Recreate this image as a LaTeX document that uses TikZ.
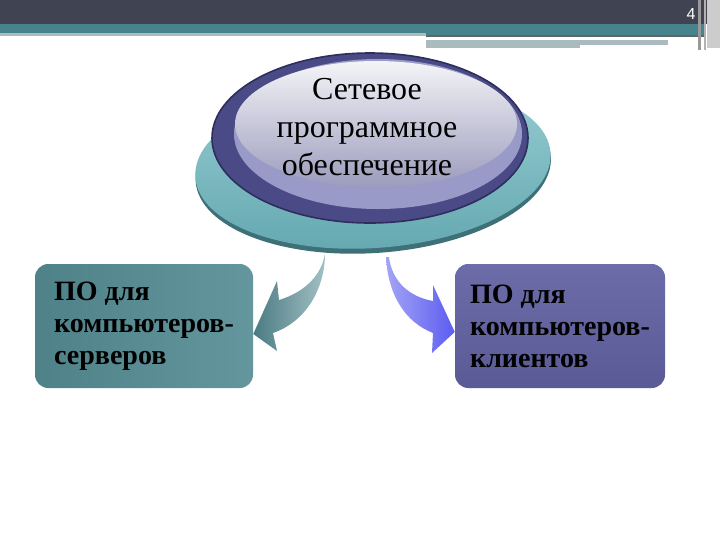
\documentclass[tikz,border=0pt]{standalone}
\usepackage{fontspec}
\setmainfont{Liberation Serif}
\setsansfont{Liberation Sans}
\usetikzlibrary{positioning}
\definecolor{hdrdark}{RGB}{63,67,82}
\definecolor{hdrteal}{RGB}{70,131,139}
\definecolor{hdrgrey}{RGB}{169,187,191}
\definecolor{tealrim}{RGB}{62,112,120}
\definecolor{tealtop}{RGB}{150,204,210}
\definecolor{tealbot}{RGB}{100,168,176}
\definecolor{ringdark}{RGB}{74,74,134}
\definecolor{ringline}{RGB}{46,46,94}
\definecolor{lavband}{RGB}{154,154,200}
\definecolor{srvL}{RGB}{79,129,137}
\definecolor{srvR}{RGB}{100,150,158}
\definecolor{cliT}{RGB}{108,108,168}
\definecolor{cliB}{RGB}{90,90,150}
\begin{document}
\begin{tikzpicture}[x=0.75pt,y=0.75pt,yscale=-1,xscale=1,
    sbox/.style={rounded corners=10pt, minimum width=#1, minimum height=93pt,
        align=left, text=black, font=\fontsize{21}{24}\selectfont\bfseries},
    bigarrow/.style={draw=none}]
    \useasboundingbox (0,0) rectangle (720,540);

    % Header bars
    \fill[hdrdark] (0,0) rectangle (720,24);
    \fill[hdrteal] (0,24) rectangle (705,33);
    \fill[hdrgrey] (0,33) rectangle (426,36);
    \fill[hdrteal] (426,33) rectangle (705,35);
    \fill[black!45!hdrgrey] (426,35) rectangle (705,37);
    \fill[hdrgrey] (426,40) rectangle (668,45);
    \fill[hdrgrey] (426,45) rectangle (580,48);
    \fill[gray!80] (698,0) rectangle (701,50);
    \fill[gray!60] (704,0) rectangle (706,50);
    \fill[gray!40] (707,0) rectangle (720,48);
    \node[text=white, font=\sffamily\fontsize{12}{13}\selectfont] (pg) at (691,14) {4};

    % Base disc
    \begin{scope}[rotate around={-4:(373,166)}]
        \fill[tealrim] (373,169) ellipse [x radius=178, y radius=84];
        \shade[top color=tealtop, bottom color=tealbot] (373,165) ellipse [x radius=178, y radius=83];
    \end{scope}

    % Top disc
    \fill[ringdark, draw=ringline, line width=1.2pt] (370,138) ellipse [x radius=158, y radius=85];
    \fill[lavband] (378,134) ellipse [x radius=144, y radius=75];
    \shade[top color=white!94!ringdark, middle color=white!72!ringdark, bottom color=white!45!ringdark]
        (376,124) ellipse [x radius=141, y radius=63];
    \node[align=center, font=\fontsize{24}{28.5}\selectfont] (core) at (367,127)
        {Сетевое\\программное\\обеспечение};

    % Boxes
    \node[sbox=163.5pt, left color=srvL, right color=srvR] (srv) at (144,326)
        {ПО для\\компьютеров-\\серверов};
    \node[sbox=157.5pt, top color=cliT, bottom color=cliB] (cli) at (560,326)
        {ПО для\\компьютеров-\\клиентов};

    % Curved arrows
    \coordinate (ltail) at (325,253);
    \coordinate (ltip) at ([yshift=6pt]srv.east);
    \shade[bigarrow, left color=srvL!95!black, right color=srvR!60!white]
        (ltail) .. controls (325,290) and (305,322) .. (273,333)
        -- (277,351) -- (ltip) -- (277,281) -- (279,300)
        .. controls (305,292) and (322,275) .. (ltail) -- cycle;
    \coordinate (rtail) at (386,257);
    \coordinate (rtip) at ([yshift=4.5pt]cli.west);
    \shade[bigarrow, left color={rgb,255:red,164;green,164;blue,244}, right color={rgb,255:red,92;green,92;blue,242}]
        (rtail) .. controls (388,295) and (405,322) .. (433,333)
        -- (432,353) -- (rtip) -- (433,285) -- (433,301)
        .. controls (410,297) and (392,282) .. (389,257) -- cycle;
\end{tikzpicture}
\end{document}
